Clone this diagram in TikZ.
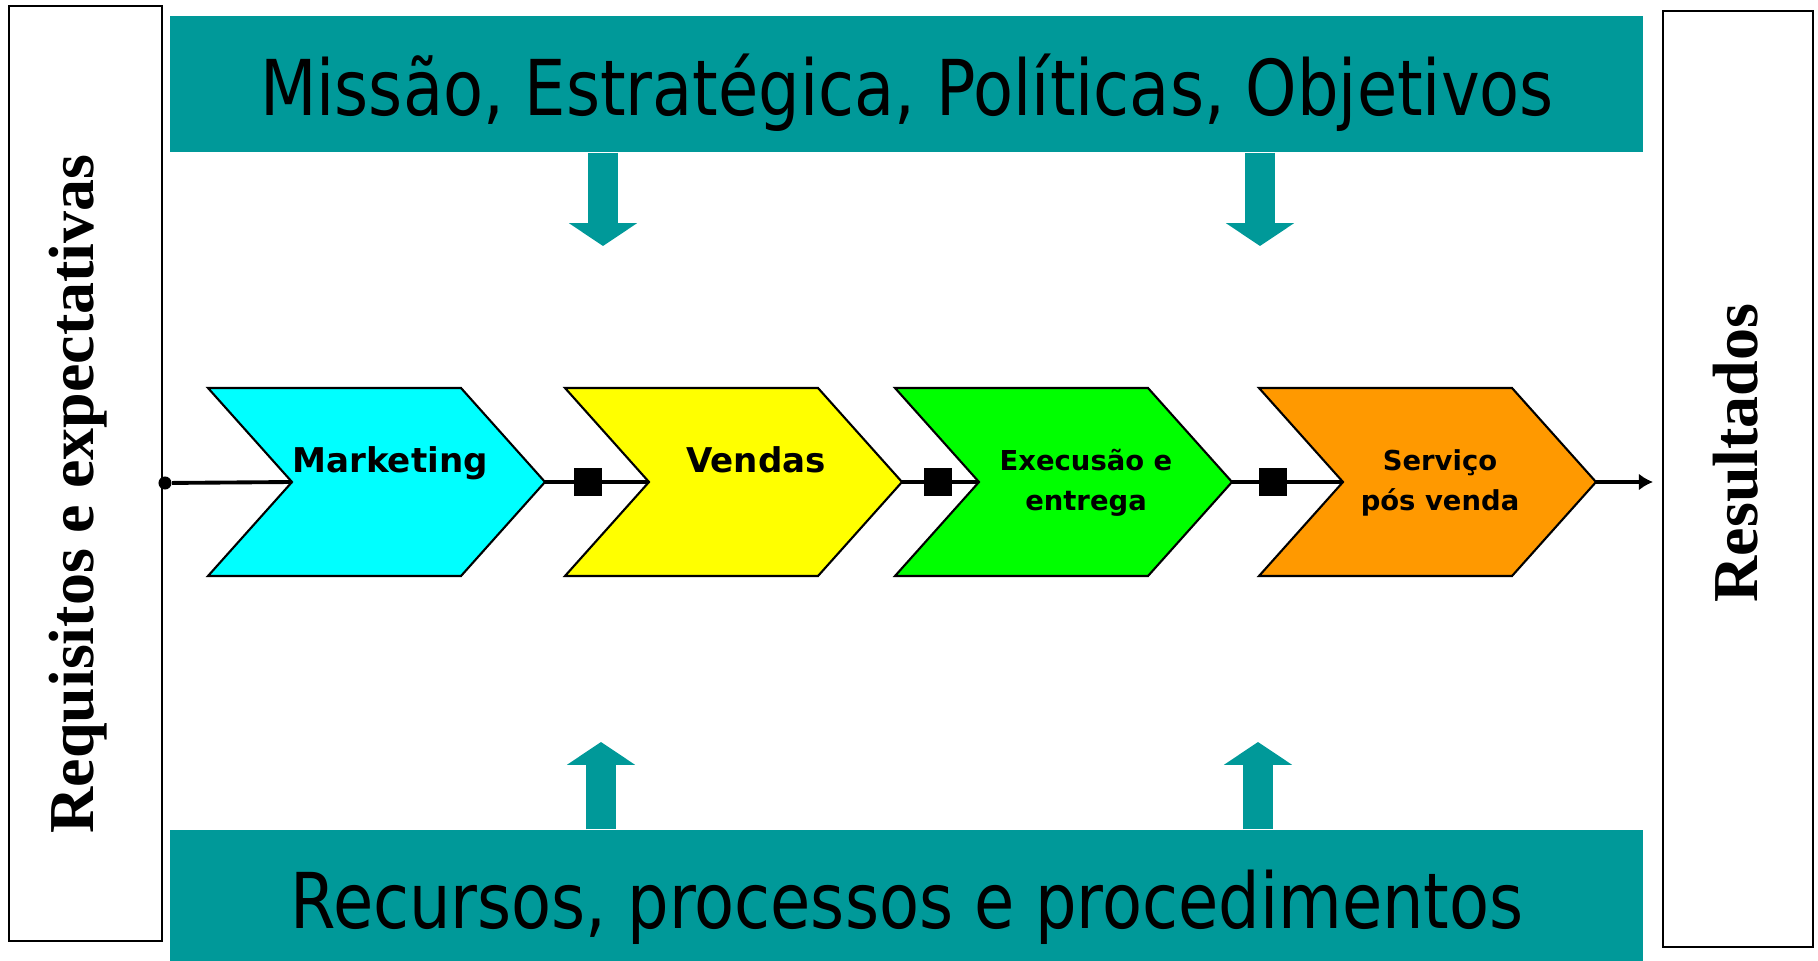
\documentclass[tikz,border=0pt]{standalone}
\usepackage{fontspec}
\setmainfont{Liberation Serif}
\newfontfamily\titlefont[FakeStretch=0.85]{DejaVu Sans}
\newfontfamily\boxfont{DejaVu Sans}
\usetikzlibrary{arrows.meta}

\definecolor{tealbar}{RGB}{0,153,153}
\definecolor{mktcyan}{RGB}{0,255,255}
\definecolor{vndyellow}{RGB}{255,255,0}
\definecolor{exegreen}{RGB}{0,255,0}
\definecolor{svcorange}{RGB}{255,153,0}

% chevron: name, left x, fill
\newcommand{\chevron}[3]{%
  \draw[chev,fill=#3] (#2,388) -- ++(253,0) -- ++(84,94) -- ++(-84,94)
    -- ++(-253,0) -- ++(84,-94) -- cycle;
  \coordinate (#1-in) at ({#2+84},482);
  \coordinate (#1-out) at ({#2+337},482);
}

\begin{document}
\begin{tikzpicture}[x=0.01cm,y=-0.01cm,
  chev/.style={draw=black,line width=0.6pt,line join=miter},
  flow/.style={line width=1.1pt},
  gate/.style={fill=black,minimum size=7.7pt,inner sep=0pt},
  startdot/.style={circle,fill=black,minimum size=3.7pt,inner sep=0pt},
  bar/.style={fill=tealbar,inner sep=0pt},
  blockarrow/.style={draw=tealbar,line width=8.8pt,-{Triangle[length=6.5pt,width=19.1pt]}},
  sidebox/.style={draw=black,line width=0.7pt},
  title/.style={font=\titlefont\fontsize{21.9}{26}\selectfont,inner sep=0pt},
  lbl/.style={font=\boxfont\bfseries\fontsize{9.7}{11}\selectfont,inner sep=0pt},
  lbltwo/.style={font=\boxfont\bfseries\fontsize{7.8}{11.4}\selectfont,inner sep=0pt,align=center},
  sidetext/.style={font=\bfseries\fontsize{18.2}{20}\selectfont,inner sep=0pt,rotate=90}]
  \useasboundingbox (0,0) rectangle (1818,961);

  % side boxes
  \draw[sidebox] (9,6) rectangle (162,941);
  \node[sidetext] (req) at (78,494) {Requisitos e expectativas};
  \draw[sidebox] (1663,11) rectangle (1813,947);
  \node[sidetext] (res) at (1736,453) {Resultados};

  % teal bars
  \node[bar,minimum width=14.73cm,minimum height=1.36cm] (topbar) at (906.5,84) {};
  \node[title,anchor=base] (toptext) at (907,116) {Missão, Estratégica, Políticas, Objetivos};
  \node[bar,minimum width=14.73cm,minimum height=1.31cm] (botbar) at (906.5,895.5) {};
  \node[title,anchor=base] (bottext) at (907,928) {Recursos, processos e procedimentos};

  \coordinate (d1) at (603,246);
  \coordinate (d2) at (1260,246);
  \coordinate (u1) at (601,742);
  \coordinate (u2) at (1258,742);
  \draw[blockarrow] (d1 |- topbar.south) -- (d1);
  \draw[blockarrow] (d2 |- topbar.south) -- (d2);
  \draw[blockarrow] (u1 |- botbar.north) -- (u1);
  \draw[blockarrow] (u2 |- botbar.north) -- (u2);

  % process chain
  \chevron{mkt}{208}{mktcyan}
  \chevron{vnd}{565}{vndyellow}
  \chevron{exe}{895}{exegreen}
  \chevron{svc}{1259}{svcorange}

  \node[lbl,anchor=base] (mkttext) at (390,473) {Marketing};
  \node[lbl,anchor=base] (vndtext) at (756,473) {Vendas};
  \node[lbltwo] (exetext) at (1086,483) {Execusão e\\entrega};
  \node[lbltwo] (svctext) at (1440,483) {Serviço\\pós venda};

  \node[startdot] (start) at (165,483) {};
  \coordinate (end) at (1653,482);
  \draw[flow] (start) -- (mkt-in);
  \draw[flow] (mkt-out) -- (vnd-in);
  \draw[flow] (vnd-out) -- (exe-in);
  \draw[flow] (exe-out) -- (svc-in);
  \draw[flow,-{Latex[length=4pt,width=4.8pt]}] (svc-out) -- (end);

  \node[gate] (g1) at (588,482) {};
  \node[gate] (g2) at (938,482) {};
  \node[gate] (g3) at (1273,482) {};
\end{tikzpicture}
\end{document}
